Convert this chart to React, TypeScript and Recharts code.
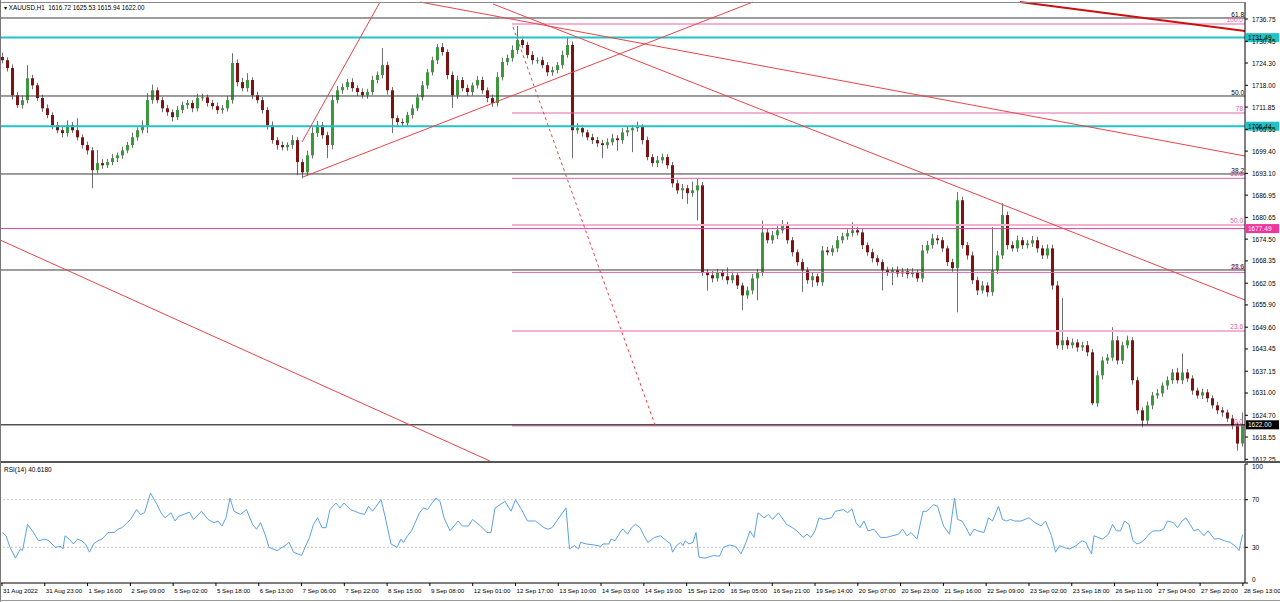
import React from 'react';
import { ComposedChart, Bar, XAxis, YAxis, ReferenceLine, LineChart, Line } from 'recharts';

const FONT = '"Liberation Sans", Arial, sans-serif';
const FS = 6.5;

const firstOpen = 1726.0;
const closes = [
  1725.1, 1722.9, 1715.2, 1712.4, 1713.8, 1720.0, 1718.0, 1714.4, 1711.5, 1709.6,
  1706.7, 1705.3, 1704.5, 1706.7, 1705.3, 1703.3, 1701.1, 1699.6, 1694.0, 1696.0,
  1695.4, 1696.3, 1697.4, 1698.2, 1699.6, 1701.1, 1703.3, 1705.3, 1706.7, 1713.8,
  1716.6, 1713.8, 1711.5, 1710.4, 1709.0, 1711.0, 1712.4, 1713.0, 1711.5, 1714.4,
  1714.6, 1713.0, 1712.1, 1711.0, 1711.5, 1713.8, 1724.3, 1718.9, 1717.2, 1719.5,
  1715.2, 1713.8, 1711.0, 1706.7, 1702.5, 1701.1, 1700.5, 1701.1, 1702.5, 1696.3,
  1693.4, 1698.2, 1704.5, 1706.7, 1703.9, 1701.1, 1713.8, 1716.6, 1717.5, 1718.9,
  1717.2, 1716.1, 1715.2, 1716.1, 1719.5, 1720.9, 1723.7, 1716.6, 1708.7, 1707.6,
  1707.3, 1709.6, 1711.5, 1714.6, 1718.0, 1721.7, 1725.1, 1728.8, 1727.4, 1720.9,
  1715.2, 1719.5, 1717.2, 1716.1, 1718.0, 1719.5, 1716.6, 1714.4, 1713.0, 1720.3,
  1724.6, 1725.7, 1728.0, 1730.8, 1729.4, 1726.6, 1725.1, 1725.1, 1723.7, 1721.7,
  1722.3, 1723.7, 1726.6, 1729.4, 1705.3, 1705.9, 1704.7, 1703.3, 1702.5, 1701.6,
  1701.1, 1701.9, 1703.0, 1702.5, 1704.7, 1705.3, 1705.9, 1706.2, 1702.5, 1697.7,
  1696.0, 1696.8, 1697.7, 1695.4, 1690.3, 1688.3, 1688.9, 1687.5, 1688.3, 1689.7,
  1665.1, 1664.3, 1663.4, 1665.1, 1664.0, 1662.9, 1664.3, 1661.4, 1658.6, 1660.0,
  1663.4, 1665.1, 1676.4, 1674.2, 1675.6, 1677.0, 1678.4, 1674.2, 1670.8, 1668.0,
  1665.7, 1662.9, 1664.0, 1662.3, 1671.3, 1670.8, 1671.9, 1674.2, 1675.3, 1676.2,
  1677.0, 1676.4, 1672.8, 1670.8, 1669.1, 1668.0, 1665.7, 1665.1, 1665.7, 1664.8,
  1665.4, 1664.6, 1665.1, 1663.4, 1671.3, 1672.8, 1674.7, 1674.2, 1671.9, 1668.0,
  1666.3, 1685.5, 1672.8, 1669.9, 1662.9, 1660.0, 1661.4, 1659.5, 1665.7, 1669.9,
  1681.3, 1672.8, 1671.9, 1674.2, 1672.8, 1673.3, 1674.2, 1671.9, 1669.9, 1671.9,
  1661.4, 1644.5, 1645.9, 1644.5, 1645.3, 1643.9, 1644.5, 1642.5, 1628.1, 1636.0,
  1640.2, 1641.0, 1645.9, 1640.2, 1644.5, 1645.9, 1634.6, 1626.1, 1623.2, 1627.5,
  1630.3, 1630.9, 1633.1, 1634.6, 1636.8, 1634.6, 1636.8, 1635.1, 1631.7, 1630.3,
  1631.2, 1629.5, 1627.5, 1626.1, 1625.5, 1623.8, 1621.8, 1616.7, 1622.0,
];
const wickUp = [
  1.2, 0.8, 1.0, 0.9, 1.3, 3.7, 1.0, 0.7, 0.9, 1.1,
  0.8, 1.0, 1.2, 1.4, 0.9, 3.4, 0.8, 1.0, 0.9, 3.7,
  1.1, 0.9, 1.2, 0.8, 1.0, 0.9, 1.3, 0.8, 1.4, 2.0,
  1.6, 0.8, 0.9, 1.0, 0.8, 1.1, 1.0, 0.9, 0.8, 1.2,
  1.0, 0.8, 0.9, 1.0, 0.9, 1.2, 2.8, 1.0, 1.2, 1.9,
  0.8, 1.0, 0.9, 0.8, 1.1, 0.9, 1.0, 0.8, 1.4, 0.9,
  0.8, 1.3, 1.6, 1.2, 0.9, 1.0, 1.4, 1.2, 1.0, 0.9,
  1.1, 0.8, 1.0, 0.9, 1.2, 1.0, 4.8, 1.0, 0.9, 0.8,
  1.0, 0.9, 1.1, 1.0, 1.2, 0.9, 1.0, 0.9, 1.2, 0.8,
  1.0, 1.2, 0.9, 1.0, 0.8, 1.1, 0.9, 0.8, 1.0, 1.4,
  1.2, 1.0, 1.3, 4.0, 1.0, 0.9, 1.1, 0.8, 1.0, 0.9,
  1.0, 0.9, 1.2, 2.3, 1.0, 1.4, 0.9, 0.8, 1.0, 0.9,
  1.0, 1.1, 1.3, 0.9, 1.2, 1.0, 0.9, 1.5, 0.8, 1.0,
  0.9, 1.2, 1.0, 0.8, 0.9, 1.0, 1.2, 0.9, 2.5, 2.0,
  1.0, 0.9, 1.2, 1.0, 0.8, 2.5, 1.0, 0.9, 0.8, 1.1,
  1.2, 1.0, 3.4, 1.0, 1.2, 1.4, 1.5, 1.0, 0.9, 0.8,
  1.0, 0.9, 1.1, 0.8, 1.3, 1.0, 0.9, 1.2, 1.0, 1.1,
  2.3, 1.0, 0.9, 0.8, 1.0, 0.9, 0.8, 1.0, 0.9, 1.1,
  1.0, 0.9, 1.2, 0.8, 1.6, 1.2, 1.3, 1.0, 0.9, 0.8,
  1.0, 2.3, 1.0, 0.9, 1.1, 1.0, 1.2, 0.9, 12.2, 1.3,
  3.4, 1.0, 1.1, 1.3, 0.9, 1.0, 1.2, 1.0, 0.9, 1.1,
  1.0, 1.2, 11.9, 1.0, 1.1, 0.9, 1.0, 1.2, 0.9, 1.3,
  1.1, 1.0, 3.7, 1.2, 1.0, 1.3, 0.9, 1.0, 0.8, 1.1,
  1.0, 1.2, 0.9, 1.1, 1.0, 1.3, 5.4, 1.0, 0.9, 0.8,
  1.0, 0.9, 0.8, 1.0, 0.9, 0.8, 1.0, 0.9, 3.5,
];
const wickDown = [
  0.9, 1.0, 1.2, 0.8, 1.0, 0.9, 1.1, 0.8, 1.0, 0.9,
  1.1, 0.9, 1.2, 1.0, 0.8, 0.9, 1.0, 1.2, 5.1, 0.9,
  1.0, 0.8, 0.9, 1.1, 1.0, 0.8, 0.9, 1.0, 0.9, 2.2,
  1.0, 0.9, 1.1, 1.0, 1.2, 0.8, 0.9, 1.0, 1.1, 0.9,
  0.8, 1.0, 0.9, 1.1, 1.0, 0.9, 1.0, 1.2, 0.9, 1.0,
  1.1, 0.9, 1.0, 1.2, 1.0, 1.3, 0.9, 1.0, 1.1, 3.7,
  1.7, 1.0, 0.9, 1.1, 1.0, 3.7, 1.2, 0.9, 1.0, 0.8,
  1.0, 1.1, 0.9, 1.0, 0.8, 0.9, 1.0, 1.2, 4.2, 1.0,
  1.1, 0.9, 1.0, 0.8, 0.9, 1.0, 0.9, 1.1, 1.0, 1.2,
  3.6, 1.0, 0.9, 1.1, 1.0, 0.9, 1.0, 1.2, 1.1, 1.0,
  0.9, 0.9, 1.0, 1.1, 0.9, 1.0, 1.2, 1.0, 0.9, 1.1,
  1.0, 0.9, 1.0, 0.8, 7.9, 1.0, 1.2, 0.9, 1.1, 1.0,
  3.7, 1.0, 0.9, 3.0, 1.0, 1.1, 6.2, 1.0, 1.2, 0.9,
  1.0, 1.1, 0.9, 1.0, 1.2, 1.0, 2.5, 3.0, 1.0, 8.5,
  1.0, 4.4, 1.1, 0.9, 1.0, 1.2, 0.9, 1.0, 4.2, 1.0,
  1.1, 6.2, 1.0, 0.9, 1.0, 1.1, 0.9, 1.0, 1.2, 1.0,
  6.1, 1.0, 2.0, 1.1, 1.0, 0.9, 1.0, 1.1, 0.9, 1.0,
  1.0, 0.9, 1.1, 1.0, 1.2, 1.0, 5.7, 1.0, 3.6, 1.1,
  1.0, 1.2, 0.9, 1.0, 1.1, 0.9, 1.0, 1.2, 1.0, 1.1,
  1.0, 12.5, 1.0, 1.2, 1.1, 1.3, 0.9, 1.2, 1.0, 1.1,
  1.0, 1.2, 0.9, 1.0, 1.1, 0.9, 1.0, 1.2, 1.0, 0.9,
  1.2, 1.0, 1.3, 1.1, 0.9, 1.2, 1.0, 1.1, 0.6, 1.0,
  1.2, 1.0, 0.9, 1.1, 1.0, 0.9, 1.2, 1.0, 1.9, 1.0,
  1.1, 0.9, 1.0, 1.2, 1.0, 0.9, 1.1, 1.0, 1.2, 0.9,
  1.0, 1.1, 0.9, 1.0, 1.2, 1.0, 1.1, 2.0, 0.8,
];

const priceTicks = [
  1736.75, 1730.45, 1724.3, 1718.0, 1711.85, 1705.55, 1699.4, 1693.1, 1686.95, 1680.65,
  1674.5, 1668.35, 1662.05, 1655.9, 1649.6, 1643.45, 1637.15, 1631.0, 1624.7, 1618.55, 1612.25,
];
const priceDomain = [1611.77, 1741.56];

const timeLabels = [
  '31 Aug 2022', '31 Aug 23:00', '1 Sep 16:00', '2 Sep 09:00', '5 Sep 02:00', '5 Sep 18:00',
  '6 Sep 13:00', '7 Sep 06:00', '7 Sep 22:00', '8 Sep 15:00', '9 Sep 08:00', '12 Sep 01:00',
  '12 Sep 17:00', '13 Sep 10:00', '14 Sep 03:00', '14 Sep 19:00', '15 Sep 12:00', '16 Sep 05:00',
  '16 Sep 21:00', '19 Sep 14:00', '20 Sep 07:00', '20 Sep 23:00', '21 Sep 16:00', '22 Sep 09:00',
  '23 Sep 02:00', '23 Sep 18:00', '26 Sep 11:00', '27 Sep 04:00', '27 Sep 20:00', '28 Sep 13:00',
];

const rsiSlot = [
  0, 0.7, 1.5, 2.6, 3.6, 4.0, 5.0, 6.0, 7.2, 8.5, 9.3, 10.5, 11.7, 12.1, 12.5, 13.3, 14.2, 15.0,
  15.8, 16.6, 17.4, 18.2, 19.1, 19.9, 21.1, 22.3, 23.1, 23.9, 25.6, 26.8, 27.6, 28.4, 29.6, 30.9,
  31.7, 32.5, 33.7, 34.5, 35.3, 37.4, 38.2, 39.8, 41.1, 42.3, 43.1, 43.9, 44.7, 45.5, 46.3, 47.6,
  48.8, 50.0, 50.8, 51.6, 52.5, 53.3, 54.9, 56.5, 57.3, 58.2, 59.8, 61.4, 62.2, 63.0, 63.9, 64.7,
  65.5, 66.7, 67.5, 68.3, 69.6, 71.2, 72.4, 73.2, 74.0, 75.7, 76.5, 77.7, 78.9, 79.7, 80.2, 81.0,
  81.8, 83.4, 84.2, 85.0, 85.9, 86.7, 87.5, 88.3, 89.5, 91.1, 92.0, 93.2, 94.0, 95.6, 96.9, 97.7,
  98.5, 100.5, 101.7, 102.6, 103.8, 105.0, 106.6, 108.3, 109.1, 109.9, 112.7, 113.4, 114.4, 115.2,
  115.6, 116.8, 118.4, 119.7, 120.1, 121.3, 121.7, 122.5, 123.7, 124.1, 125.0, 125.8, 126.6,
  127.5, 128.3, 129.1, 130.4, 131.6, 132.8, 133.6, 134.0, 134.8, 135.6, 136.1, 136.5, 137.3, 138.1,
  138.7, 139.3, 140.5, 142.2, 143.4, 144.2, 145.4, 146.6, 147.7, 148.7, 149.5, 150.3, 151.1, 152.3,
  153.2, 154.0, 155.2, 156.8, 158.0, 158.9, 160.1, 160.9, 161.7, 162.5, 163.3, 164.2, 165.8, 166.6,
  168.2, 169.0, 169.9, 170.7, 171.5, 172.3, 173.1, 174.3, 175.6, 176.8, 178.0, 179.2, 180.0, 180.9,
  181.7, 182.9, 184.1, 184.9, 186.2, 187.0, 188.2, 189.4, 190.4, 191.0, 191.9, 192.7, 193.5, 194.3,
  195.1, 196.3, 197.2, 198.0, 199.2, 200.0, 200.8, 201.6, 202.4, 203.7, 205.3, 206.5, 207.7, 208.6,
  209.8, 210.6, 211.4, 212.2, 213.4, 214.7, 215.9, 216.7, 217.1, 217.8, 218.3, 219.1, 220.0, 221.2,
  222.0, 222.8, 223.6, 224.4, 225.3, 226.1, 226.9, 227.7, 228.5, 229.3, 230.1, 231.4, 232.2, 233.0,
  234.2, 235.0, 235.9, 236.7, 237.5, 238.3, 239.1, 240.3, 241.1, 242.4, 243.2, 244.4, 245.6, 246.8,
  247.3, 248.0,
];
const rsiValue = [
  42.4, 39.7, 30.0, 20.9, 28.6, 27.2, 49.3, 43.8, 35.5, 36.9, 35.5, 30.0, 30.8, 28.6, 39.7, 36.9, 32.8, 36.9,
  35.5, 32.8, 25.9, 32.8, 35.5, 36.9, 42.4, 42.4, 45.2, 46.5, 53.4, 61.7, 57.6, 59.0, 75.5, 65.9,
  59.0, 54.8, 59.0, 52.1, 56.2, 59.5, 53.4, 60.3, 53.4, 50.7, 52.1, 47.9, 54.8, 71.4, 60.3, 57.6,
  61.7, 49.3, 45.2, 50.7, 41.0, 30.0, 27.2, 31.4, 34.1, 25.9, 23.1, 38.3, 49.3, 54.8, 46.5, 46.5,
  61.7, 67.2, 63.1, 67.2, 61.7, 59.0, 57.6, 64.5, 60.3, 70.0, 56.2, 32.8, 30.0, 36.9, 34.1, 39.7,
  43.8, 59.0, 63.1, 61.7, 67.2, 71.4, 68.6, 54.8, 43.8, 52.1, 47.9, 47.9, 53.4, 47.9, 42.4, 42.4,
  63.1, 68.6, 60.3, 70.0, 61.7, 52.1, 52.1, 46.5, 45.2, 46.5, 63.1, 28.6, 31.4, 28.6,
  34.1, 32.8, 31.9, 30.8, 32.8, 32.8, 36.9, 35.5, 43.8, 45.2, 41.0, 46.5, 49.3,
  46.5, 39.7, 34.1, 38.3, 39.7, 35.5, 32.8, 25.9, 31.4, 34.1, 31.4, 35.5, 32.8, 34.1,
  42.4, 21.7, 20.9, 23.1, 22.5, 30.0, 31.9, 30.8, 24.5, 34.1, 43.8, 38.3, 59.0, 54.8,
  57.6, 53.4, 59.0, 49.3, 46.5, 43.8, 38.3, 41.0, 38.3, 43.8, 54.8, 53.4, 54.8, 60.3,
  61.7, 59.0, 62.3, 50.7, 46.5, 52.1, 43.8, 45.2, 38.3, 38.3, 39.7, 41.0, 45.2, 39.7,
  42.4, 36.9, 60.3, 60.3, 65.9, 64.5, 47.9, 41.0, 71.4, 53.4, 52.1, 46.5, 39.7, 45.2,
  43.8, 42.4, 54.8, 52.1, 64.5, 53.4, 52.1, 53.4, 52.1, 52.1, 54.8, 50.7, 47.9, 52.1,
  39.7, 25.9, 31.4, 30.0, 28.6, 31.4, 35.5, 34.1, 30.0, 24.5, 39.7, 38.3, 36.9, 41.0,
  49.3, 43.8, 43.8, 52.1, 49.3, 35.5, 32.8, 34.1, 36.9, 41.0, 43.8, 43.8, 45.2, 52.1,
  50.7, 46.5, 52.1, 54.8, 49.3, 43.8, 45.2, 39.7, 43.8, 36.9, 37.4, 35.5, 34.1, 30.0,
  27.2, 40.6,
];

// horizontal levels
const blackFibLevels = [
  { price: 1737.04, label: '61.8' },
  { price: 1714.98, label: '50.0' },
  { price: 1692.93, label: '38.2' },
  { price: 1665.78, label: '23.6' },
];
const pinkFibLevels = [
  { price: 1735.34, label: '100.0', light: true },
  { price: 1710.17, label: '78', light: false },
  { price: 1691.7, label: '61.8', light: false },
  { price: 1678.5, label: '50.0', light: true },
  { price: 1665.1, label: '38.2', light: false },
  { price: 1648.5, label: '23.6', light: true },
  { price: 1621.7, label: '0.0', light: false },
];
const pinkFibStart = 101.9;
const cyanLevels = [1731.49, 1706.44];
const magentaLevel = 1677.49;
const bidPrice = 1622.0;

const trendLines = [
  { a: [-0.5, 1674.26], b: [97.5, 1611.77], kind: 'thin' },
  { a: [59.9, 1701.97], b: [75.5, 1741.56], kind: 'thin' },
  { a: [60.1, 1692.08], b: [150.1, 1741.56], kind: 'thin' },
  { a: [83.5, 1741.56], b: [248.5, 1698.01], kind: 'thin' },
  { a: [98.1, 1741.0], b: [248.5, 1657.29], kind: 'thin' },
  { a: [102.1, 1734.49], b: [130.5, 1621.95], kind: 'dot' },
  { a: [203.5, 1741.56], b: [248.5, 1733.36], kind: 'thick' },
];

const candles = closes.map((c, i) => {
  const o = i === 0 ? firstOpen : closes[i - 1];
  const hi = Math.max(o, c) + wickUp[i];
  const lo = Math.min(o, c) - wickDown[i];
  return { i, o, c, hi, lo, range: [lo, hi] };
});
const rsiData = rsiSlot.map((s, k) => ({ s, v: rsiValue[k] }));
const timeTicks = timeLabels.map((_, k) => k * 8.558 - 0.1);

const CandleShape = (props: any) => {
  const { x, y, width, height, payload } = props;
  if (!payload || x == null || y == null) return null;
  const { o, c, hi, lo } = payload;
  const top = Math.min(y, y + height);
  const h = Math.abs(height);
  const per = h / (hi - lo);
  const yOf = (v: number) => top + (hi - v) * per;
  const cx = x + width / 2;
  const bt = yOf(Math.max(o, c));
  const bb = yOf(Math.min(o, c));
  const up = c >= o;
  return (
    <g>
      <line x1={cx} x2={cx} y1={top} y2={top + h} stroke="#6e6e6e" strokeWidth={1} />
      <rect x={cx - 1.5} y={bt} width={3} height={Math.max(1, bb - bt)} fill={up ? '#3d973d' : '#7c1212'} />
    </g>
  );
};

const axisTag = (text: string, bg: string, fg: string) => (props: any) => {
  const vb = props.viewBox || {};
  const yy = vb.y;
  const xx = (vb.x || 0) + (vb.width || 0) + 1;
  return (
    <g>
      <rect x={xx} y={yy - 4.5} width={33} height={9} fill={bg} />
      <text x={xx + 2} y={yy + 2.5} fontSize={FS} fontFamily={FONT} fill={fg}>{text}</text>
    </g>
  );
};

const PriceTick = (props: any) => {
  const { x, y, payload } = props;
  return (
    <text x={x} y={y + 2.5} fontSize={FS} fontFamily={FONT} fill="#000">
      {Number(payload.value).toFixed(2)}
    </text>
  );
};

const RsiTick = (props: any) => {
  const { x, y, payload } = props;
  const v = payload.value;
  const dy = v === 100 ? 5 : v === 0 ? -1 : 2.5;
  return (
    <text x={x} y={y + dy} fontSize={FS} fontFamily={FONT} fill="#000">{v}</text>
  );
};

const TimeTick = (props: any) => {
  const { x, y, index } = props;
  return (
    <g>
      <line x1={x} x2={x} y1={y} y2={y + 3} stroke="#000" />
      <text x={x + 1} y={y + 10} fontSize={6.2} fontFamily={FONT} fill="#000">{timeLabels[index]}</text>
    </g>
  );
};

export default function App() {
  return (
    <div style={{ position: 'fixed', left: 0, top: 0, width: 1280, height: 602, background: '#fff', overflow: 'hidden', fontFamily: FONT }}>
      <div style={{ position: 'absolute', left: 0, top: 0 }}>
        <ComposedChart width={1280} height={463} data={candles} margin={{ top: 2, right: 0, bottom: 2, left: 0 }}>
          <XAxis type="number" dataKey="i" domain={[-0.5, 248.5]} allowDataOverflow hide />
          <YAxis
            orientation="right"
            type="number"
            domain={priceDomain}
            allowDataOverflow
            ticks={priceTicks}
            interval={0}
            width={35}
            tickSize={3}
            tickMargin={4}
            stroke="#000"
            tick={<PriceTick />}
          />
          {blackFibLevels.map((l) => (
            <ReferenceLine
              key={'bf' + l.price}
              y={l.price}
              stroke="#3a3a3a"
              strokeWidth={1}
              label={{ value: l.label, position: 'insideBottomRight', offset: 1, fontSize: FS, fill: '#000', fontFamily: FONT }}
            />
          ))}
          {pinkFibLevels.map((l) => (
            <ReferenceLine
              key={'pf' + l.price}
              segment={[{ x: pinkFibStart, y: l.price }, { x: 248.5, y: l.price }]}
              stroke={l.light ? '#f5b0d2' : '#e066aa'}
              strokeWidth={l.light ? 2 : 1}
              ifOverflow="visible"
              label={{ value: l.label, position: 'insideBottomRight', offset: 2, fontSize: FS, fill: '#e25aa6', fontFamily: FONT }}
            />
          ))}
          {cyanLevels.map((p) => (
            <ReferenceLine key={'c' + p} y={p} stroke="#22c3c6" strokeWidth={2} label={axisTag(p.toFixed(2), '#22c3c6', '#000')} />
          ))}
          <ReferenceLine y={magentaLevel} stroke="#e0439c" strokeWidth={1} label={axisTag(magentaLevel.toFixed(2), '#f0349a', '#fff')} />
          <ReferenceLine y={bidPrice} stroke="#000" strokeWidth={1} label={axisTag(bidPrice.toFixed(2), '#000', '#fff')} />
          {trendLines.map((t, k) => (
            <ReferenceLine
              key={'t' + k}
              segment={[{ x: t.a[0], y: t.a[1] }, { x: t.b[0], y: t.b[1] }]}
              stroke={t.kind === 'thick' ? '#cc1010' : '#e8454a'}
              strokeWidth={t.kind === 'thick' ? 2 : 1}
              strokeDasharray={t.kind === 'dot' ? '3 3' : undefined}
              ifOverflow="visible"
            />
          ))}
          <Bar dataKey="range" shape={<CandleShape />} isAnimationActive={false} barSize={3} />
        </ComposedChart>
      </div>
      <div style={{ position: 'absolute', left: 0, top: 463 }}>
        <LineChart width={1280} height={137} data={rsiData} margin={{ top: 1, right: 0, bottom: 0, left: 0 }}>
          <XAxis
            type="number"
            dataKey="s"
            domain={[-0.5, 248.5]}
            allowDataOverflow
            ticks={timeTicks}
            interval={0}
            height={17}
            stroke="#000"
            tickLine={false}
            tickSize={0}
            tickMargin={0}
            tick={<TimeTick />}
          />
          <YAxis
            orientation="right"
            type="number"
            domain={[0, 100]}
            ticks={[0, 30, 70, 100]}
            interval={0}
            width={35}
            tickSize={3}
            tickMargin={4}
            stroke="#000"
            tick={<RsiTick />}
          />
          <ReferenceLine y={70} stroke="#c8c8c8" strokeDasharray="2 2" />
          <ReferenceLine y={30} stroke="#c8c8c8" strokeDasharray="2 2" />
          <Line type="linear" dataKey="v" stroke="#5aa2e8" strokeWidth={1} dot={false} isAnimationActive={false} />
        </LineChart>
      </div>
      <div style={{ position: 'absolute', left: 0, top: 2, width: 1245, height: 1, background: '#8a8a8a' }} />
      <div style={{ position: 'absolute', left: 0, top: 461, width: 1280, height: 2, background: '#555' }} />
      <div style={{ position: 'absolute', left: 0, top: 0, width: 1, height: 602, background: '#777' }} />
      <div style={{ position: 'absolute', left: 0, top: 600, width: 1280, height: 1, background: '#999' }} />
      <div style={{ position: 'absolute', left: 4, top: 4, fontSize: 6.3, lineHeight: '8px', color: '#000', whiteSpace: 'pre' }}>
        {'\u25BE XAUUSD,H1  1616.72 1625.53 1615.94 1622.00'}
      </div>
      <div style={{ position: 'absolute', left: 4, top: 466, fontSize: FS, lineHeight: '8px', color: '#000', whiteSpace: 'pre' }}>
        {'RSI(14) 40.6180'}
      </div>
    </div>
  );
}
